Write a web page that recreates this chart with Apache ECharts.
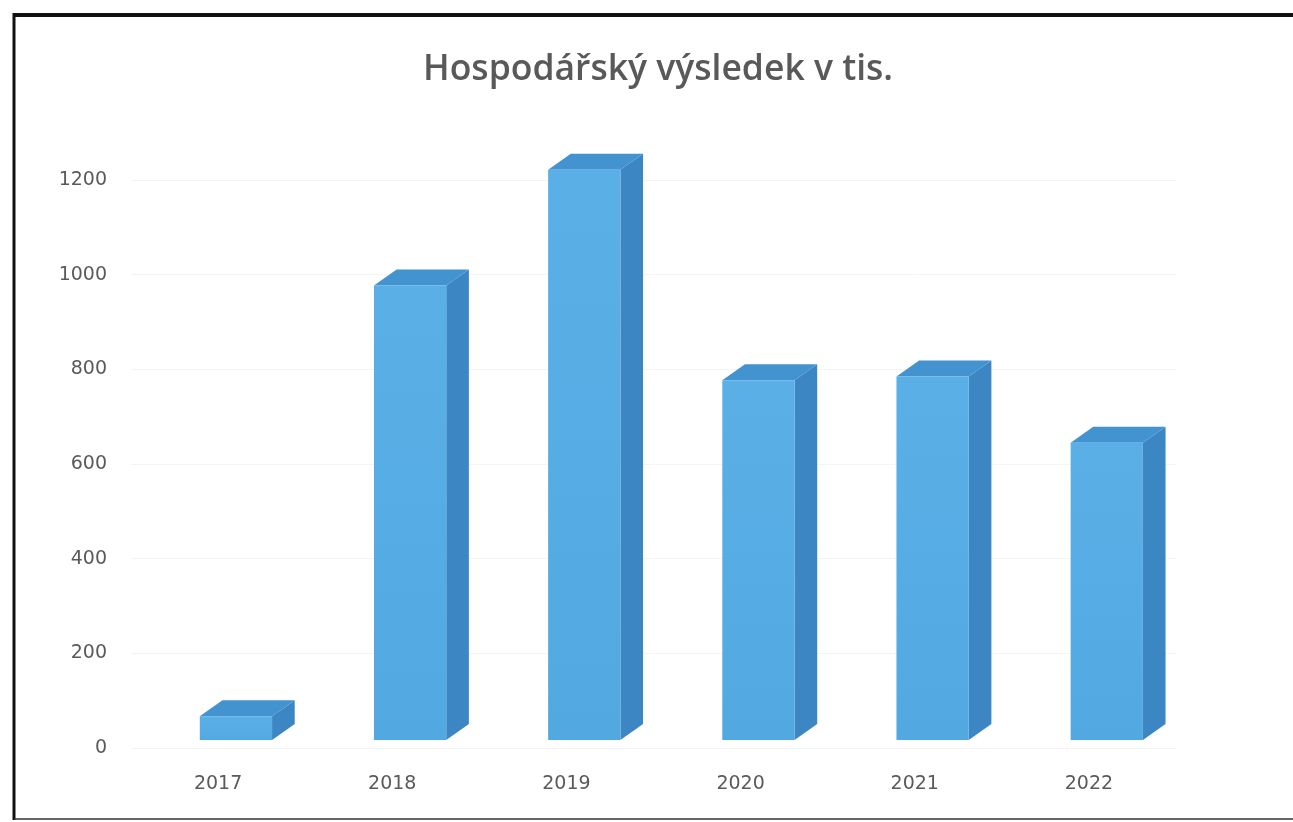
<!DOCTYPE html>
<html>
<head>
<meta charset="utf-8">
<script src="https://cdn.jsdelivr.net/npm/echarts@6/dist/echarts.min.js"></script>
<style>
  html, body { margin: 0; padding: 0; background: #ffffff; }
  #chart { width: 1293px; height: 822px; }
</style>
</head>
<body>
<div id="chart"></div>
<script>
const titleText = 'Hospodářský výsledek v tis.';
const years = ['2017', '2018', '2019', '2020', '2021', '2022'];
const values = [50, 960, 1205, 760, 768, 628];
const yTicks = [0, 200, 400, 600, 800, 1000, 1200];

const chart = echarts.init(document.getElementById('chart'));

function renderBar(params, api) {
  const idx = api.value(0);
  const val = api.value(1);
  const base = api.coord([idx, 0]);
  const top = api.coord([idx, val]);
  const bw = api.size([1, 0])[0];
  const lift = 8;
  const x0 = base[0] - 0.105 * bw;
  const w = 0.415 * bw;
  const dx = 0.13 * bw;
  const dy = 16;
  const yb = base[1] - lift;
  const yt = top[1] - lift;
  return {
    type: 'group',
    children: [
      { type: 'polygon', shape: { points: [[x0 + w, yb], [x0 + w + dx, yb - dy], [x0 + w + dx, yt - dy], [x0 + w, yt]] },
        style: { fill: '#3b86c3' } },
      { type: 'polygon', shape: { points: [[x0, yt], [x0 + dx, yt - dy], [x0 + w + dx, yt - dy], [x0 + w, yt]] },
        style: { fill: '#4293d0' } },
      { type: 'rect', shape: { x: x0, y: yt, width: w, height: yb - yt },
        style: { fill: new echarts.graphic.LinearGradient(0, 0, 0, 1, [
          { offset: 0, color: '#5aafe6' }, { offset: 1, color: '#52a9e2' }]) } }
    ]
  };
}

chart.setOption({
  backgroundColor: '#ffffff',
  animation: false,
  title: {
    text: titleText,
    left: 418,
    top: 47,
    padding: 5,
    textStyle: { fontFamily: 'Open Sans', fontSize: 35.5, fontWeight: 600, color: '#595959' }
  },
  grid: { left: 131, right: 117, top: 180, bottom: 74 },
  xAxis: {
    type: 'category',
    data: years,
    axisLine: { show: false },
    axisTick: { show: false },
    axisLabel: { color: '#5a5a5a', fontSize: 19, fontFamily: 'DejaVu Sans', margin: 27 }
  },
  yAxis: {
    type: 'value',
    min: yTicks[0],
    max: yTicks[yTicks.length - 1],
    interval: 200,
    axisLine: { show: false },
    axisTick: { show: false },
    splitLine: { lineStyle: { color: '#f4f4f4', width: 1 } },
    axisLabel: { color: '#5a5a5a', fontSize: 19, fontFamily: 'DejaVu Sans', margin: 24,
      formatter: (v) => String(v) }
  },
  series: [{
    type: 'custom',
    clip: false,
    renderItem: renderBar,
    data: values.map((v, i) => [i, v]),
    encode: { x: 0, y: 1 }
  }],
  graphic: [
    { type: 'line', shape: { x1: 14, y1: 15, x2: 1293, y2: 15 }, style: { stroke: '#111', lineWidth: 4 } },
    { type: 'line', shape: { x1: 14, y1: 13, x2: 14, y2: 820 }, style: { stroke: '#111', lineWidth: 3 } },
    { type: 'line', shape: { x1: 14, y1: 819, x2: 1293, y2: 819 }, style: { stroke: '#333', lineWidth: 1.5 } }
  ]
});
</script>
</body>
</html>
